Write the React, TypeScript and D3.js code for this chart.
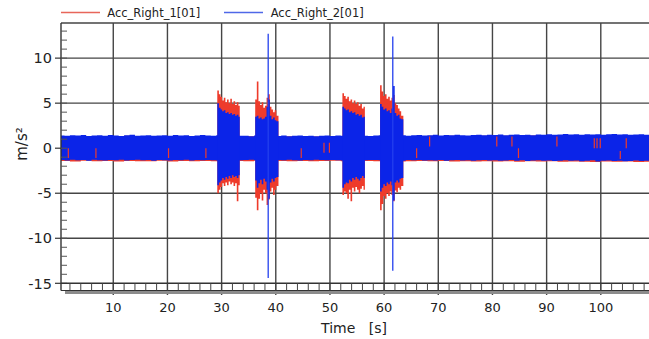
import React from "react";
import * as d3 from "d3";

// ---------- data ----------
const seriesNames = ["Acc_Right_1[01]", "Acc_Right_2[01]"];
const seriesColors = ["#EE3B2B", "#0B24E8"];

const xTickValues = [10, 20, 30, 40, 50, 60, 70, 80, 90, 100];
const yTickValues = [-15, -10, -5, 0, 5, 10];

// quiet band envelope of Acc_Right_2 (1 s grid)
const quietTime = [
  0, 1, 2, 3, 4, 5, 6, 7, 8, 9, 10, 11, 12, 13, 14, 15, 16, 17, 18, 19, 20, 21, 22, 23, 24, 25, 26, 27, 28, 29,
  30, 31, 32, 33, 34, 35, 36, 37, 38, 39, 40, 41, 42, 43, 44, 45, 46, 47, 48, 49, 50, 51, 52, 53, 54, 55, 56, 57, 58, 59,
  60, 61, 62, 63, 64, 65, 66, 67, 68, 69, 70, 71, 72, 73, 74, 75, 76, 77, 78, 79, 80, 81, 82, 83, 84, 85, 86, 87, 88, 89,
  90, 91, 92, 93, 94, 95, 96, 97, 98, 99, 100, 101, 102, 103, 104, 105, 106, 107, 108, 109,
];
const blueQuietHi = [
  1.42, 1.38, 1.45, 1.4, 1.47, 1.36, 1.41, 1.44, 1.39, 1.46,
  1.4, 1.35, 1.43, 1.48, 1.37, 1.42, 1.45, 1.39, 1.41, 1.44,
  1.38, 1.46, 1.4, 1.43, 1.36, 1.42, 1.47, 1.4, 1.38, 1.44,
  1.42, 1.4, 1.45, 1.39, 1.37, 1.33, 1.4, 1.44, 1.41, 1.38,
  1.36, 1.4, 1.34, 1.38, 1.42, 1.35, 1.39, 1.33, 1.37, 1.41,
  1.36, 1.4, 1.38, 1.43, 1.39, 1.41, 1.37, 1.35, 1.4, 1.44,
  1.41, 1.38, 1.42, 1.45, 1.39, 1.43, 1.47, 1.4, 1.44, 1.48,
  1.42, 1.46, 1.43, 1.49, 1.45, 1.41, 1.47, 1.5, 1.44, 1.48,
  1.46, 1.51, 1.45, 1.49, 1.53, 1.47, 1.5, 1.44, 1.52, 1.48,
  1.55, 1.49, 1.53, 1.58, 1.51, 1.54, 1.49, 1.56, 1.52, 1.55,
  1.5, 1.54, 1.57, 1.51, 1.55, 1.48, 1.53, 1.56, 1.5, 1.54,
];
const blueQuietLo = [
  -1.3, -1.36, -1.28, -1.34, -1.31, -1.38, -1.29, -1.33, -1.36, -1.3,
  -1.34, -1.29, -1.37, -1.32, -1.28, -1.35, -1.31, -1.38, -1.3, -1.33,
  -1.36, -1.3, -1.34, -1.29, -1.37, -1.32, -1.35, -1.3, -1.33, -1.36,
  -1.32, -1.35, -1.3, -1.34, -1.31, -1.29, -1.33, -1.36, -1.3, -1.34,
  -1.31, -1.35, -1.28, -1.33, -1.36, -1.3, -1.34, -1.29, -1.32, -1.35,
  -1.3, -1.33, -1.36, -1.31, -1.34, -1.29, -1.35, -1.32, -1.3, -1.34,
  -1.36, -1.31, -1.34, -1.38, -1.32, -1.35, -1.3, -1.37, -1.33, -1.36,
  -1.31, -1.38, -1.34, -1.3, -1.36, -1.33, -1.39, -1.35, -1.31, -1.37,
  -1.34, -1.4, -1.36, -1.32, -1.38, -1.35, -1.41, -1.37, -1.33, -1.39,
  -1.36, -1.42, -1.38, -1.34, -1.4, -1.37, -1.44, -1.39, -1.35, -1.48,
  -1.4, -1.36, -1.43, -1.38, -1.46, -1.41, -1.37, -1.42, -1.39, -1.44,
];

// quiet band envelope of Acc_Right_1 (2 s grid)
const redQuietTime = [
  0, 2, 4, 6, 8, 10, 12, 14, 16, 18, 20, 22, 24, 26, 28, 30, 32, 34, 36, 38, 40, 42, 44, 46, 48, 50, 52, 54,
  56, 58, 60, 62, 64, 66, 68, 70, 72, 74, 76, 78, 80, 82, 84, 86, 88, 90, 92, 94, 96, 98, 100, 102, 104, 106, 108, 110,
];
const redQuietHi = [
  1.35, 1.3, 1.36, 1.32, 1.34, 1.3, 1.37, 1.33, 1.35, 1.31, 1.36, 1.32, 1.34, 1.3, 1.35, 1.33, 1.3, 1.34, 1.31, 1.33,
  1.3, 1.32, 1.35, 1.31, 1.33, 1.3, 1.34, 1.32, 1.35, 1.31, 1.33, 1.36, 1.32, 1.34, 1.37, 1.35, 1.38, 1.36, 1.4, 1.37,
  1.41, 1.38, 1.42, 1.4, 1.43, 1.41, 1.44, 1.42, 1.45, 1.43, 1.46, 1.42, 1.45, 1.43, 1.44, 1.44,
];
const redQuietLo = [
  -1.42, -1.47, -1.4, -1.45, -1.43, -1.48, -1.41, -1.46, -1.44, -1.4, -1.47, -1.43, -1.45, -1.41, -1.46, -1.44,
  -1.42, -1.45, -1.4, -1.44, -1.42, -1.46, -1.41, -1.45, -1.43, -1.4, -1.44, -1.47, -1.42, -1.45, -1.43, -1.48,
  -1.44, -1.41, -1.46, -1.43, -1.47, -1.44, -1.49, -1.45, -1.48, -1.44, -1.5, -1.46, -1.49, -1.45, -1.51, -1.47,
  -1.5, -1.53, -1.48, -1.51, -1.49, -1.52, -1.5, -1.5,
];

// burst 1 (≈29.2 – 33.35 s)
const burst1Time = [29.2, 29.5, 29.8, 30.1, 30.4, 30.7, 31.0, 31.3, 31.6, 31.9, 32.2, 32.5, 32.8, 33.1, 33.35];
const burst1RedHi = [6.4, 6.0, 5.7, 5.3, 5.6, 5.1, 5.4, 5.0, 5.5, 4.9, 5.2, 4.8, 5.1, 4.7, 1.4];
const burst1RedLo = [-5.0, -4.6, -4.3, -3.9, -4.2, -3.8, -4.1, -3.7, -4.0, -3.8, -4.2, -3.9, -5.9, -4.1, -1.4];
const burst1BlueHi = [5.0, 4.5, 4.3, 4.1, 4.2, 3.9, 4.0, 3.8, 3.9, 3.7, 3.8, 3.6, 3.7, 3.5, 1.4];
const burst1BlueLo = [-4.1, -3.8, -3.6, -3.3, -3.5, -3.2, -3.4, -3.1, -3.3, -3.0, -3.2, -3.1, -3.3, -3.0, -1.3];

// burst 2 (≈36.2 – 40.5 s)
const burst2Time = [36.2, 36.5, 36.8, 37.1, 37.4, 37.7, 38.0, 38.3, 38.6, 38.9, 39.2, 39.5, 39.8, 40.1, 40.5];
const burst2RedHi = [5.4, 7.4, 5.2, 4.8, 5.1, 4.5, 4.7, 5.6, 6.0, 4.6, 4.3, 4.0, 4.2, 3.6, 1.4];
const burst2RedLo = [-5.5, -6.9, -5.6, -5.0, -5.8, -4.6, -5.0, -6.3, -5.7, -4.8, -4.4, -5.2, -4.6, -4.2, -1.4];
const burst2BlueHi = [3.5, 3.6, 3.3, 3.4, 3.2, 3.3, 3.5, 4.6, 5.4, 3.6, 3.2, 3.4, 3.1, 3.0, 1.4];
const burst2BlueLo = [-3.6, -4.4, -3.9, -3.5, -4.0, -3.4, -3.7, -4.6, -5.6, -3.8, -3.4, -3.7, -3.3, -3.2, -1.3];

// burst 3 (≈52.3 – 56.45 s)
const burst3Time = [52.3, 52.6, 52.9, 53.2, 53.5, 53.8, 54.1, 54.4, 54.7, 55.0, 55.3, 55.6, 55.9, 56.2, 56.45];
const burst3RedHi = [6.1, 5.8, 5.5, 5.7, 5.2, 5.4, 5.0, 5.3, 4.9, 5.1, 4.7, 4.9, 4.4, 4.6, 1.4];
const burst3RedLo = [-5.2, -4.8, -5.0, -5.6, -4.6, -5.9, -4.4, -4.8, -4.3, -4.6, -5.0, -4.5, -4.2, -4.6, -1.4];
const burst3BlueHi = [4.6, 4.4, 4.2, 4.3, 4.0, 4.1, 3.9, 4.0, 3.7, 3.8, 3.6, 3.7, 3.4, 3.5, 1.4];
const burst3BlueLo = [-4.4, -4.0, -3.8, -3.9, -3.5, -3.7, -3.3, -3.5, -3.2, -3.4, -3.6, -3.3, -3.1, -3.3, -1.3];

// burst 4 (≈59.25 – 63.55 s)
const burst4Time = [59.25, 59.55, 59.85, 60.15, 60.45, 60.75, 61.05, 61.35, 61.65, 61.95, 62.25, 62.55, 62.85, 63.15, 63.55];
const burst4RedHi = [7.0, 6.3, 5.8, 6.0, 5.5, 5.7, 5.3, 5.6, 5.9, 5.0, 4.8, 4.4, 4.1, 3.6, 1.4];
const burst4RedLo = [-6.9, -6.2, -5.3, -5.6, -5.0, -5.3, -4.8, -5.2, -5.9, -4.7, -4.9, -4.4, -4.6, -4.2, -1.4];
const burst4BlueHi = [4.9, 4.6, 4.3, 4.4, 4.1, 4.2, 3.9, 4.4, 6.9, 3.9, 3.6, 3.7, 3.3, 3.2, 1.4];
const burst4BlueLo = [-4.8, -4.4, -4.0, -4.2, -3.8, -4.0, -3.7, -4.1, -5.8, -3.8, -3.6, -3.8, -3.4, -3.3, -1.3];

// single-sample spikes of Acc_Right_2
const blueSpikeTime = [38.6, 61.6];
const blueSpikeHi = [12.7, 12.4];
const blueSpikeLo = [-14.4, -13.6];

// isolated Acc_Right_1 samples visible inside the blue band
const redMarkTime = [1.7, 6.8, 20.2, 27.1, 44.7, 48.9, 49.9, 66.0, 68.4, 80.8, 83.6, 84.8, 91.9, 98.8, 99.3, 99.9, 103.6, 104.7];
const redMarkHi = [0, 0, 0, 0, 0, 0.6, 0.6, 0, 1.3, 1.3, 1.3, 0, 1.3, 1.1, 1.1, 1.1, -0.3, 1.1];
const redMarkLo = [-1.1, -1.1, -1.1, -1.1, -1.1, -0.5, -0.5, -1.1, 0.2, 0.2, 0.2, -1.1, 0.2, 0, 0, 0, -1.2, 0];

// ---------- chart ----------
const W = 649;
const H = 339;
const left = 61;
const right = 649;
const top = 23;
const bottom = 283.3;
const FONT = "'DejaVu Sans', Verdana, sans-serif";

const x = d3.scaleLinear().domain([0.35, 108.9]).range([left, right]);
const y = d3.scaleLinear().domain([-15, 13.9]).range([bottom, top]);

type Pt = { t: number; hi: number; lo: number };
const zipEnv = (t: number[], hi: number[], lo: number[]): Pt[] =>
  t.map((tt, i) => ({ t: tt, hi: hi[i], lo: lo[i] }));

const areaGen = d3
  .area<Pt>()
  .x((d) => x(d.t))
  .y0((d) => y(d.lo))
  .y1((d) => y(d.hi))
  .curve(d3.curveStepAfter);

const redBursts = [
  zipEnv(burst1Time, burst1RedHi, burst1RedLo),
  zipEnv(burst2Time, burst2RedHi, burst2RedLo),
  zipEnv(burst3Time, burst3RedHi, burst3RedLo),
  zipEnv(burst4Time, burst4RedHi, burst4RedLo),
];
const blueBursts = [
  zipEnv(burst1Time, burst1BlueHi, burst1BlueLo),
  zipEnv(burst2Time, burst2BlueHi, burst2BlueLo),
  zipEnv(burst3Time, burst3BlueHi, burst3BlueLo),
  zipEnv(burst4Time, burst4BlueHi, burst4BlueLo),
];

export default function App() {
  const [red, blue] = seriesColors;
  const gridColor = "#454545";
  const minorY = d3.range(-15, 14, 1);
  const minorX = d3.range(2, 109, 2);

  return (
    <svg
      width={W}
      height={H}
      viewBox={`0 0 ${W} ${H}`}
      style={{ position: "absolute", left: 0, top: 0, background: "#fff" }}
    >
      <defs>
        <clipPath id="plotClip">
          <rect x={left} y={top} width={right - left} height={bottom - top} />
        </clipPath>
      </defs>

      {/* grid */}
      {yTickValues
        .filter((v) => v !== -15)
        .map((v) => (
          <line key={"gy" + v} x1={left} x2={right} y1={y(v)} y2={y(v)} stroke={gridColor} strokeWidth={1.4} />
        ))}
      {xTickValues.map((v) => (
        <line key={"gx" + v} x1={x(v)} x2={x(v)} y1={top} y2={295} stroke={gridColor} strokeWidth={1.4} />
      ))}

      {/* data */}
      <g clipPath="url(#plotClip)">
        <path d={areaGen(zipEnv(redQuietTime, redQuietHi, redQuietLo)) || ""} fill={red} />
        {redBursts.map((b, i) => (
          <path key={"rb" + i} d={areaGen(b) || ""} fill={red} />
        ))}
        <path d={areaGen(zipEnv(quietTime, blueQuietHi, blueQuietLo)) || ""} fill={blue} />
        {blueBursts.map((b, i) => (
          <path key={"bb" + i} d={areaGen(b) || ""} fill={blue} />
        ))}
        {blueSpikeTime.map((t, i) => (
          <line
            key={"bs" + i}
            x1={x(t)}
            x2={x(t)}
            y1={y(blueSpikeHi[i])}
            y2={y(blueSpikeLo[i])}
            stroke="#2440EE"
            strokeWidth={1.3}
          />
        ))}
        {redMarkTime.map((t, i) => (
          <line
            key={"rm" + i}
            x1={x(t)}
            x2={x(t)}
            y1={y(redMarkHi[i])}
            y2={y(redMarkLo[i])}
            stroke={red}
            strokeWidth={1.2}
          />
        ))}
      </g>

      {/* frame */}
      <line x1={left} x2={right} y1={top} y2={top} stroke={gridColor} strokeWidth={1.4} />
      <line x1={left} x2={left} y1={top} y2={290.5} stroke="#333" strokeWidth={1.4} />

      {/* y axis ticks */}
      {minorY.map((v) => (
        <line key={"my" + v} x1={left} x2={left + 6} y1={y(v)} y2={y(v)} stroke="#555" strokeWidth={1} />
      ))}
      {yTickValues.map((v) => (
        <g key={"yt" + v}>
          <line x1={left - 6} x2={left} y1={y(v)} y2={y(v)} stroke="#333" strokeWidth={1.2} />
          <text
            x={left - 9}
            y={y(v)}
            dy="0.36em"
            textAnchor="end"
            fontFamily={FONT}
            fontSize={14.5}
            fill="#222"
          >
            {v}
          </text>
        </g>
      ))}

      {/* x axis strip */}
      <rect x={65} y={290.5} width={right - 65} height={3.5} fill="#8c8c8c" />
      <line x1={left} x2={right} y1={bottom} y2={bottom} stroke="#333" strokeWidth={1.4} />
      <line x1={left} x2={right} y1={290.5} y2={290.5} stroke="#333" strokeWidth={1} />
      {minorX.map((v) => (
        <line key={"mx" + v} x1={x(v)} x2={x(v)} y1={bottom} y2={290.5} stroke="#444" strokeWidth={1} />
      ))}
      {xTickValues.map((v) => (
        <text
          key={"xt" + v}
          x={x(v)}
          y={312}
          textAnchor="middle"
          fontFamily={FONT}
          fontSize={13}
          fill="#222"
        >
          {v}
        </text>
      ))}

      {/* axis titles */}
      <text
        x={354}
        y={333}
        textAnchor="middle"
        fontFamily={FONT}
        fontSize={14}
        fill="#222"
        style={{ whiteSpace: "pre" }}
      >
        {"Time   [s]"}
      </text>
      <text
        transform={`translate(26.5, ${144}) rotate(-90)`}
        textAnchor="middle"
        fontFamily={FONT}
        fontSize={15}
        fill="#222"
      >
        m/s²
      </text>

      {/* legend */}
      <line x1={61} x2={100} y1={12.5} y2={12.5} stroke="#E8665A" strokeWidth={1.3} />
      <text x={107.3} y={16.8} fontFamily={FONT} fontSize={11.5} fill="#222">
        {seriesNames[0]}
      </text>
      <line x1={224} x2={263} y1={12.5} y2={12.5} stroke="#4F68E8" strokeWidth={1.3} />
      <text x={270.7} y={16.8} fontFamily={FONT} fontSize={11.5} fill="#222">
        {seriesNames[1]}
      </text>
    </svg>
  );
}
